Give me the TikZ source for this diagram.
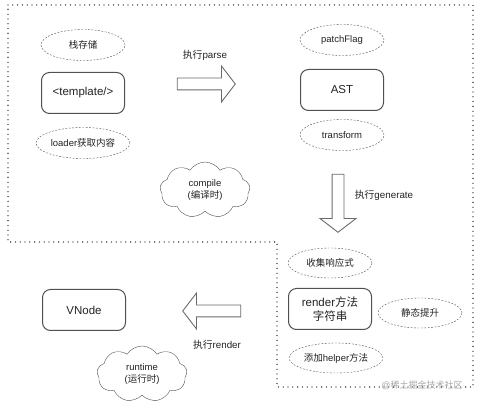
\documentclass[tikz,border=0pt]{standalone}
\usepackage{fontspec}
\setmainfont{Liberation Sans}
\newfontfamily\cjk{Noto Sans CJK SC}
\newcommand{\zh}[1]{{\cjk #1}}
\usetikzlibrary{shapes.geometric, shapes.symbols, shapes.arrows, positioning}
\definecolor{linegray}{HTML}{505050}
\definecolor{arrowgray}{HTML}{6A6A6A}
\definecolor{textgray}{HTML}{222222}
\tikzset{
  stage/.style={draw=linegray, line width=1pt, rounded corners=8pt, minimum width=83pt,
    minimum height=41pt, font=\fontsize{11.5}{14}\selectfont, text=textgray, align=center},
  note/.style={ellipse, draw=linegray, dash pattern=on 1.8pt off 1.6pt, minimum width=84pt,
    minimum height=31pt, inner sep=1pt, font=\fontsize{9.5}{11}\selectfont, text=textgray},
  phase/.style={cloud, cloud puffs=9, cloud puff arc=115, cloud ignores aspect, draw=linegray,
    minimum width=90pt, minimum height=56pt, inner sep=0pt, align=center,
    font=\fontsize{9.5}{11.5}\selectfont, text=textgray},
  fatarrow/.style={single arrow, draw=arrowgray, line width=0.9pt, single arrow head extend=12pt,
    single arrow tip angle=105, inner sep=5.5pt, minimum height=58pt},
  steplabel/.style={font=\fontsize{9.8}{12}\selectfont, text=textgray}
}

\begin{document}
\begin{tikzpicture}[x=1pt, y=-1pt]
  \useasboundingbox (0,0) rectangle (480,403);
  % compile / runtime border
  \draw[line width=1.3pt, line cap=round, dash pattern=on 0pt off 4.8pt]
    (8,5) -- (473,5) -- (473,387) -- (277,387) -- (277,242) -- (8,242) -- cycle;

  % compile stage
  \node at (83,45)  (stack) [note]{\zh{栈存储}};
  \node at (83,93)  (tpl) [stage]{<template/>};
  \node at (83,143) (loader) [note]{loader\zh{获取内容}};
  \node at (204,84) (parse) [fatarrow]{};
  \node at (205,55) (parselbl) [steplabel]{\zh{执行}parse};
  \node at (205,190) (compile) [phase]{compile\\(\zh{编译时})};

  \node at (342,40)  (flag) [note]{patchFlag};
  \node at (342,90)  (ast) [stage]{AST};
  \node at (342,135) (trans) [note]{transform};
  \node at (338,201) (gen) [fatarrow, rotate=-90]{};
  \node at (384,195) (genlbl) [steplabel]{\zh{执行}generate};

  % runtime stage
  \node at (330,263) (react) [note, minimum height=30pt]{\zh{收集响应式}};
  \node at (330,309) (fn) [stage, inner sep=1pt]{render\zh{方法}\\\zh{字符串}};
  \node at (420,313) (hoist) [note, minimum height=30pt]{\zh{静态提升}};
  \node at (336,358) (helper) [note, minimum width=87pt, minimum height=30pt]{\zh{添加}helper\zh{方法}};
  \node at (214,311) (render) [fatarrow, rotate=180]{};
  \node at (217,345) (renderlbl) [steplabel]{\zh{执行}render};
  \node at (84,310)  (vnode) [stage]{VNode};
  \node at (142,374) (runtime) [phase]{runtime\\(\zh{运行时})};

  \node at (422,385) (wm) [font=\fontsize{9}{10}\selectfont, text=black!35]{@\zh{稀土掘金技术社区}};
\end{tikzpicture}
\end{document}
